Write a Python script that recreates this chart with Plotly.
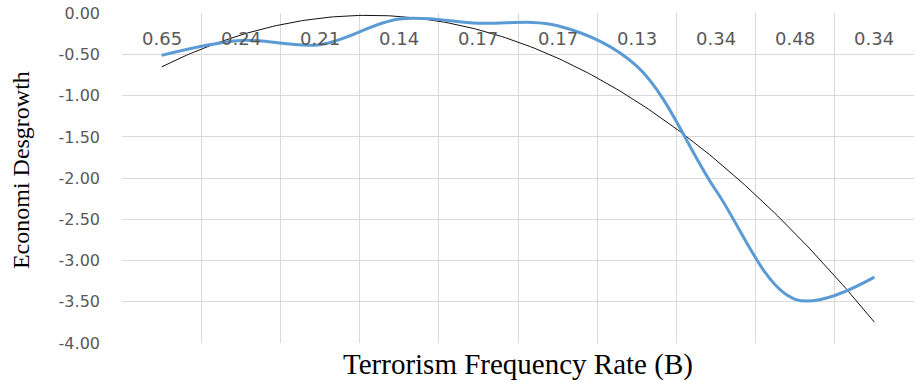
import numpy as np
import plotly.graph_objects as go

categories = ["0.65", "0.24", "0.21", "0.14", "0.17", "0.17", "0.13", "0.34", "0.48", "0.34"]
growth = [-0.51, -0.33, -0.38, -0.07, -0.12, -0.15, -0.64, -2.15, -3.47, -3.20]
y_ticks = [0, -0.5, -1, -1.5, -2, -2.5, -3, -3.5, -4]

x = np.arange(1, len(categories) + 1)
coef = np.polyfit(x, growth, 2)  # polynomial (order 2) trendline
xt = np.linspace(1, len(categories), 200)
yt = np.polyval(coef, xt)

fig = go.Figure()
fig.add_trace(go.Scatter(x=xt, y=yt, mode="lines",
                         line=dict(color="#111111", width=1), hoverinfo="skip"))
fig.add_trace(go.Scatter(x=x, y=growth, mode="lines",
                         line=dict(color="#5B9BD5", width=3, shape="spline", smoothing=1)))

fig.update_layout(
    width=916, height=380,
    margin=dict(l=122, r=2, t=13, b=37),
    paper_bgcolor="white", plot_bgcolor="white",
    showlegend=False,
    xaxis=dict(
        range=[0.5, len(categories) + 0.5],
        tickvals=[v + 0.5 for v in range(0, len(categories) + 1)],
        showticklabels=False,
        ticks="", showgrid=True, gridcolor="#D9D9D9", gridwidth=1,
        zeroline=False, showline=False,
    ),
    yaxis=dict(
        range=[-4, 0.004],
        tickvals=y_ticks, ticktext=[f"{v:.2f}" for v in y_ticks],
        showgrid=True, gridcolor="#D9D9D9", gridwidth=1,
        zeroline=False, ticks="", ticklabelstandoff=21,
        tickfont=dict(family="DejaVu Sans", size=16, color="#595959"),
    ),
)
for xi, lab in zip(x, categories):
    fig.add_annotation(text=lab, x=xi, y=-0.31, xref="x", yref="y",
                       showarrow=False, yanchor="middle",
                       font=dict(family="DejaVu Sans", size=18, color="#595959"))
fig.add_annotation(text="Economi Desgrowth", xref="paper", yref="paper",
                   x=-0.1275, y=0.524, xanchor="center", yanchor="middle",
                   textangle=-90, showarrow=False,
                   font=dict(family="Liberation Serif", size=24, color="#000000"))
fig.add_annotation(text="Terrorism Frequency Rate (B)", xref="paper", yref="paper",
                   x=0.5, y=0, yshift=-21, yanchor="middle", showarrow=False,
                   font=dict(family="Liberation Serif", size=29, color="#000000"))
fig.write_html("out.html")
